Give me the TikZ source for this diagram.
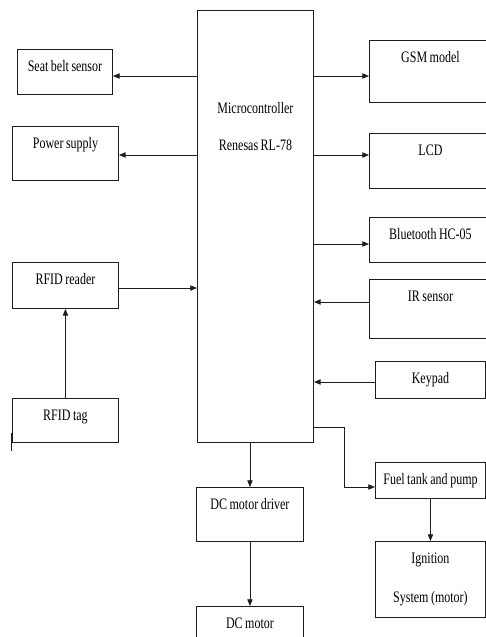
\documentclass[tikz,border=0pt]{standalone}
\usepackage{fontspec}
\setmainfont[FakeStretch=0.75]{Liberation Serif}
\usepackage{tikz}
\usetikzlibrary{arrows.meta,calc}
\definecolor{ink}{RGB}{30,30,30}

\begin{document}
\begin{tikzpicture}[x=0.75pt,y=-0.75pt,font=\fontsize{12pt}{14.5pt}\selectfont,
  blk/.style={draw=ink,line width=0.7pt,anchor=north west,inner sep=0pt,align=center,text height=16.5pt,
    execute at begin node={\spaceskip=1.9pt\relax}},
  arr/.style={draw=ink,line width=0.6pt,-{Triangle[length=5pt,width=4pt]}}]
\useasboundingbox (0,0) rectangle (486,637);
\node[blk,text width=87pt,text height=77.25pt,text depth=246.75pt] (mcu) at (197,10) {Microcontroller\\[13.25pt]Renesas RL-78};
\node[blk,text width=71.25pt,text depth=17.25pt] (belt) at (17,49) {Seat belt sensor};
\node[blk,text width=79.5pt,text depth=24pt] (power) at (12,126) {Power supply};
\node[blk,text width=79.5pt,text depth=18pt] (reader) at (12,262) {RFID reader};
\node[blk,text width=79.5pt,text depth=16.5pt] (tag) at (12,398) {RFID tag};
\node[blk,text width=91.5pt,text depth=30pt] (gsm) at (369,40) {GSM model};
\node[blk,text width=91.5pt,text depth=24.75pt] (lcd) at (369,133) {LCD};
\node[blk,text width=91.5pt,text depth=17.25pt] (bt) at (369,217) {Bluetooth HC-05};
\node[blk,text width=91.5pt,text depth=27.75pt] (ir) at (369,279) {IR sensor};
\node[blk,text width=82.5pt,text depth=11.25pt] (keypad) at (375,361) {Keypad};
\node[blk,text width=82.5pt,text depth=10.5pt] (fuel) at (375,462) {Fuel tank and pump};
\node[blk,text width=82.5pt,text depth=40.5pt] (ignition) at (375,541) {Ignition\\[14.75pt]System (motor)};
\node[blk,text width=80.25pt,text depth=24pt] (driver) at (196,487) {DC motor driver};
\node[blk,text width=80.25pt,text depth=33pt] (motor) at (196,606) {DC motor};
\coordinate (bend) at (344,487);
\draw[arr] (mcu.west |- 0,76) -- (belt.east |- 0,76);
\draw[arr] (mcu.west |- 0,155) -- (power.east |- 0,155);
\draw[arr] (reader.east |- 0,288) -- (mcu.west |- 0,288);
\draw[arr] (tag.north) -- (reader.south);
\draw[arr] (mcu.east |- 0,76) -- (gsm.west |- 0,76);
\draw[arr] (mcu.east |- 0,155) -- (lcd.west |- 0,155);
\draw[arr] (mcu.east |- 0,244) -- (bt.west |- 0,244);
\draw[arr] (ir.west |- 0,302) -- (mcu.east |- 0,302);
\draw[arr] (keypad.west |- 0,382) -- (mcu.east |- 0,382);
\draw[arr] (mcu.east |- 0,427) -| (bend) -- (fuel.west |- bend);
\draw[arr] (fuel.south) -- (ignition.north);
\draw[arr] (mcu.south -| driver.north) -- (driver.north);
\draw[arr] (driver.south) -- (motor.north);
\draw[ink,line width=0.7pt] (tag.south west) ++(-1,-10) -- ++(0,18);
\end{tikzpicture}
\end{document}
